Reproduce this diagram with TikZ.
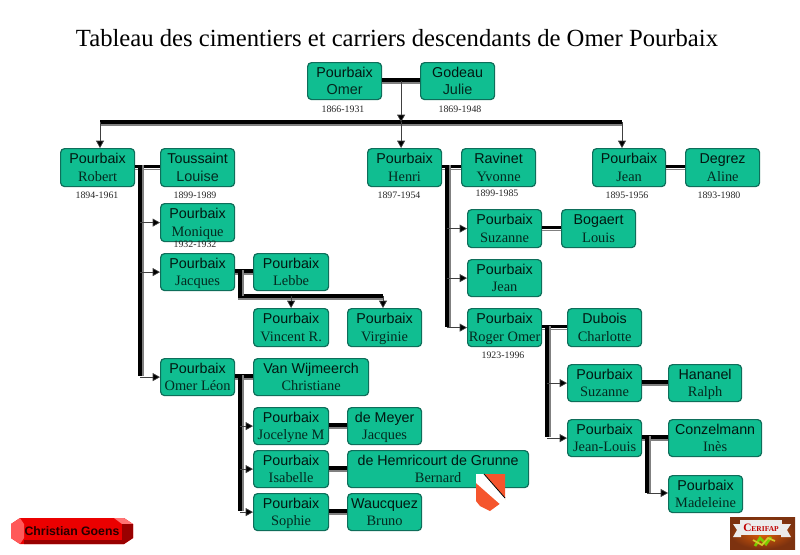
\documentclass[tikz,border=0pt]{standalone}
\usepackage{fontspec}
\setmainfont{Liberation Serif}
\newfontfamily\boxfont{Liberation Sans}
\usepackage{tikz}
\usetikzlibrary{arrows.meta}
\usetikzlibrary{calc}
\definecolor{BoxGreen}{RGB}{16,190,145}
\definecolor{BoxEdge}{RGB}{14,110,90}
\definecolor{ShieldRed}{RGB}{245,85,45}
\definecolor{LogoBrown}{RGB}{125,50,15}
\definecolor{LogoOrange}{RGB}{225,95,10}
\tikzset{
person/.style={draw=BoxEdge,line width=0.9pt,fill=BoxGreen,rounded corners=3pt,inner sep=0pt},
upper/.style={font=\boxfont\fontsize{10.7}{12}\selectfont,inner sep=0pt,anchor=base,text=black!88!BoxGreen},
lower/.style={font=\fontsize{10.8}{12}\selectfont,inner sep=0pt,anchor=base,text=black!78!BoxGreen},
years/.style={font=\fontsize{7.4}{8}\selectfont,inner sep=0pt,text=black!85},
couple/.style={line width=2.7pt,black,preaction={draw=gray,line width=1pt,transform canvas={yshift=-2.2pt}}},
stem/.style={line width=2.7pt,black,preaction={draw=gray,line width=1.5pt,transform canvas={xshift=2.3pt}}},
descent/.style={-{Triangle[length=5.5pt,width=6pt,fill=black]},line width=0.5pt,draw=black!75},
}
% a box: corners in pixels, then name, upper line, lower line
\newcommand{\personbox}[7]{%
\node[person,minimum width={(#3-#1)*0.75pt},minimum height={(#4-#2)*0.75pt},anchor=north west] (#5) at (#1,#2) {};
\node[upper] (#5u) at ($(#5.center)+(0,-4)$) {#6};
\node[lower] (#5l) at ($(#5.center)+(0,13.7)$) {#7};}
\begin{document}
\begin{tikzpicture}[x=0.75pt,y=-0.75pt,line cap=butt]
\useasboundingbox (0,0) rectangle (800,554);
\node[font=\fontsize{18.5}{20}\selectfont,inner sep=0pt] (title) at (397,38) {Tableau des cimentiers et carriers descendants de Omer Pourbaix};
% first generation
\personbox{307}{62}{381}{99}{omer}{Pourbaix}{\boxfont Omer}
\personbox{420}{62}{494}{99}{julie}{Godeau}{\boxfont Julie}
\node[years] (y1) at (343,109) {1866-1931};
\node[years] (y2) at (460,109) {1869-1948};
% second generation
\personbox{60}{148}{134}{186}{robert}{Pourbaix}{Robert}
\personbox{160}{148}{234}{186}{louise}{Toussaint}{\boxfont Louise}
\personbox{367}{148}{441}{186}{henri}{Pourbaix}{Henri}
\personbox{461}{148}{535}{186}{yvonne}{Ravinet}{Yvonne}
\personbox{592}{148}{665}{186}{jean}{Pourbaix}{Jean}
\personbox{685}{148}{759}{186}{aline}{Degrez}{Aline}
\node[years] (y3) at (97,195) {1894-1961};
\node[years] (y4) at (195,195) {1899-1989};
\node[years] (y5) at (399,195) {1897-1954};
\node[years] (y6) at (497,193) {1899-1985};
\node[years] (y7) at (627,195) {1895-1956};
\node[years] (y8) at (719,195) {1893-1980};
% children of Robert
\personbox{160}{203}{234}{241}{monique}{Pourbaix}{Monique}
\node[years] (y9) at (195,244) {1932-1932};
\personbox{160}{253}{234}{290}{jacques}{Pourbaix}{Jacques}
\personbox{253}{253}{328}{290}{lebbe}{Pourbaix}{Lebbe}
\personbox{253}{308}{328}{346}{vincent}{Pourbaix}{Vincent R.}
\personbox{347}{308}{421}{346}{virginie}{Pourbaix}{Virginie}
\personbox{160}{358}{234}{395}{omerleon}{Pourbaix}{Omer Léon}
\personbox{253}{358}{368}{395}{christiane}{Van Wijmeerch}{Christiane}
\personbox{253}{407}{328}{444}{jocelyne}{Pourbaix}{Jocelyne M}
\personbox{347}{407}{421}{444}{meyer}{de Meyer}{Jacques}
\personbox{253}{450}{328}{487}{isabelle}{Pourbaix}{Isabelle}
\personbox{347}{450}{528}{487}{bernard}{de Hemricourt de Grunne}{Bernard}
\personbox{253}{493}{328}{530}{sophie}{Pourbaix}{Sophie}
\personbox{347}{493}{421}{530}{bruno}{Waucquez}{Bruno}
% children of Henri
\personbox{467}{209}{541}{247}{suzanne}{Pourbaix}{Suzanne}
\personbox{561}{209}{635}{247}{louis}{Bogaert}{Louis}
\personbox{467}{259}{541}{296}{jeanb}{Pourbaix}{Jean}
\personbox{467}{308}{541}{346}{roger}{Pourbaix}{Roger Omer}
\node[years] (y10) at (503,355) {1923-1996};
\personbox{567}{308}{641}{346}{charlotte}{Dubois}{Charlotte}
\personbox{567}{364}{641}{401}{suzanneb}{Pourbaix}{Suzanne}
\personbox{668}{364}{741}{401}{ralph}{Hananel}{Ralph}
\personbox{567}{419}{641}{456}{jeanlouis}{Pourbaix}{Jean-Louis}
\personbox{668}{419}{761}{456}{ines}{Conzelmann}{Inès}
\personbox{668}{475}{742}{512}{madeleine}{Pourbaix}{Madeleine}
% couples
\foreach \a/\b in {omer/julie,robert/louise,henri/yvonne,jean/aline,jacques/lebbe,omerleon/christiane,jocelyne/meyer,isabelle/bernard,sophie/bruno,suzanne/louis,roger/charlotte,suzanneb/ralph,jeanlouis/ines}
\draw[couple] ($(\a.east)+(0,-1.2)$) -- ($(\b.west)+(0,-1.2)$);
% the bus of the second generation
\coordinate (omerjulie) at ($(omer.east)!0.5!(julie.west)$);
\coordinate (busl) at (100,122);
\coordinate (busm) at (omerjulie |- busl);
\coordinate (busr) at (622,122);
\draw[couple] (busl) -- (busr);
\draw[descent] (omerjulie) -- (busm);
\draw[descent] (busl) -- (busl |- robert.north);
\draw[descent] (busm) -- (busm |- henri.north);
\draw[descent] (busr) -- (busr |- jean.north);
% the stems
\coordinate (s1t) at (140,165);
\coordinate (s1b) at (140,376);
\draw[stem] (s1t) -- (s1b);
\foreach \c in {monique,jacques,omerleon}
\draw[descent] (\c.west -| s1t) -- (\c.west);
\coordinate (s2t) at (240,270);
\coordinate (s2b) at (240,296);
\coordinate (s2r) at (383,296);
\draw[couple] ($(s2b)+(-1.8,0)$) -- (s2r);
\draw[stem] (s2t) -- (s2b);
\draw[descent] (s2b -| vincent.north) -- (vincent.north);
\draw[descent] (s2r) -- (s2r |- virginie.north);
\coordinate (s3t) at (240,375);
\coordinate (s3b) at (240,511);
\draw[stem] (s3t) -- (s3b);
\foreach \c in {jocelyne,isabelle,sophie}
\draw[descent] (\c.west -| s3t) -- (\c.west);
\coordinate (s4t) at (447,165);
\coordinate (s4b) at (447,327);
\draw[stem] (s4t) -- (s4b);
\foreach \c in {suzanne,jeanb,roger}
\draw[descent] (\c.west -| s4t) -- (\c.west);
\coordinate (s5t) at (547,326);
\coordinate (s5b) at (547,437);
\draw[stem] (s5t) -- (s5b);
\foreach \c in {suzanneb,jeanlouis}
\draw[descent] (\c.west -| s5t) -- (\c.west);
\coordinate (s6t) at (647,436);
\coordinate (s6b) at (647,493);
\draw[stem] (s6t) -- (s6b);
\draw[descent] (s6b) -- (s6b -| madeleine.west);
% shield
\fill[ShieldRed] (476,474) -- (505,474) -- (505,500) -- (490,511) -- (480,506) -- (476,501) -- cycle;
\fill[white] (476,474) -- (484,474) -- (505,498) -- (505,502) -- (501,505) -- (476,483) -- cycle;
\draw[line width=0.6pt] (484,474) -- (505,498);
% signature
\fill[red!92!black] (20,518) -- (124,518) -- (133,524) -- (133,538) -- (124,544) -- (20,544) -- (11,538) -- (11,524) -- cycle;
\fill[red!65!white] (20,518) -- (24,524) -- (24,538) -- (20,544) -- (11,538) -- (11,524) -- cycle;
\fill[red!55!white] (114,518) -- (124,518) -- (133,524) -- (122,524) -- cycle;
\fill[red!60!black] (122,524) -- (133,524) -- (133,538) -- (124,544) -- (24,544) -- (24,540) -- (122,540) -- cycle;
\node[font=\boxfont\bfseries\fontsize{9.2}{10}\selectfont,inner sep=0pt,text=black!85!red] (sign) at (72,531) {Christian Goens};
% logo
\shade[inner color=LogoOrange,outer color=LogoBrown] (730,517) rectangle (795,549);
\fill[white!85!gray] (740,520) -- (782,520) -- (782,535) -- (740,535) -- cycle;
\fill[white!85!gray] (741,524) -- (733,524) -- (737,530) -- (733,537) -- (741,537) -- cycle;
\fill[white!85!gray] (781,524) -- (791,524) -- (787,530) -- (791,537) -- (781,537) -- cycle;
\node[inner sep=0pt,text=red!75!black,font=\bfseries] (logot) at (761,528) {\fontsize{8.5}{9}\selectfont C\fontsize{5.6}{9}\selectfont ERIFAP};
\draw[line width=2pt,green!40!yellow!80!black] (755,546) -- (760,538) -- (766,544) -- (771,537);
\draw[line width=1.3pt,yellow!80!black] (753,540) -- (762,545) -- (768,538) -- (775,541);
\end{tikzpicture}
\end{document}
